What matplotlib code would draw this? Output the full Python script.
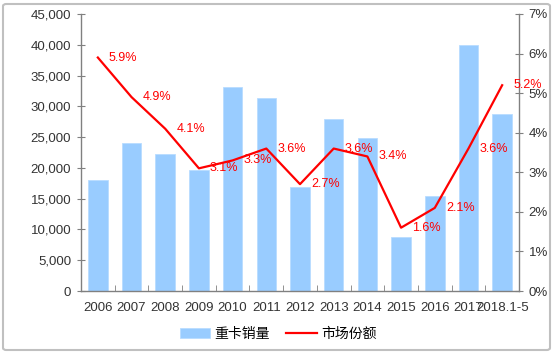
import matplotlib.pyplot as plt
from matplotlib.patches import FancyBboxPatch
from matplotlib.ticker import FuncFormatter, FixedLocator
import numpy as np

plt.rcParams['font.family'] = ['Liberation Sans', 'Noto Sans CJK SC', 'DejaVu Sans']

years = ['2006', '2007', '2008', '2009', '2010', '2011', '2012', '2013',
         '2014', '2015', '2016', '2017', '2018.1-5']
sales = [18000, 24000, 22300, 19600, 33200, 31400, 16900, 27900,
         24900, 8700, 15400, 40000, 28800]
share = [5.9, 4.9, 4.1, 3.1, 3.3, 3.6, 2.7, 3.6, 3.4, 1.6, 2.1, 3.6, 5.2]

bar_color = '#99CCFF'
line_color = '#FF0000'
axis_color = '#808080'
text_color = '#333333'

fig = plt.figure(figsize=(5.54, 3.53), dpi=100)
ax = fig.add_axes([81 / 554, 62 / 353, 438 / 554, 277 / 353])
ax2 = ax.twinx()

x = np.arange(len(years))
ax.bar(x, sales, width=0.58, color=bar_color, edgecolor='#B8DCFF',
       linewidth=0.6, label='重卡销量', zorder=2)
ax2.plot(x, share, color=line_color, lw=1.6, label='市场份额', zorder=3)

for xi, v in zip(x, share):
    ax2.annotate(f'{v:.1f}%', (xi, v), xytext=(8, 0), textcoords='offset points',
                 ha='left', va='center', color=line_color, fontsize=9)

ax.set_xlim(-0.5, len(years) - 0.5)
ax.set_ylim(0, 45000)
ax.set_yticks(np.arange(0, 45001, 5000))
ax.yaxis.set_major_formatter(FuncFormatter(lambda v, p: f'{int(v):,}'))
ax2.set_ylim(0, 7)
ax2.set_yticks(np.arange(0, 8, 1))
ax2.yaxis.set_major_formatter(FuncFormatter(lambda v, p: f'{int(v)}%'))

ax.set_xticks(x)
ax.set_xticklabels(years)
ax.xaxis.set_minor_locator(FixedLocator(np.arange(-0.5, len(years), 1)))
ax.tick_params(axis='x', which='major', length=0, pad=8, labelsize=9.5,
               colors=text_color)
ax.tick_params(axis='x', which='minor', length=4, direction='in',
               color=axis_color)
ax.tick_params(axis='y', direction='inout', length=6, color=axis_color,
               labelsize=9.5, labelcolor=text_color, pad=4)
ax2.tick_params(axis='y', direction='inout', length=6, color=axis_color,
                labelsize=9.5, labelcolor=text_color, pad=4)

for a in (ax, ax2):
    a.spines['top'].set_visible(False)
    for s in ('left', 'right', 'bottom'):
        a.spines[s].set_color(axis_color)
        a.spines[s].set_linewidth(1.0)
ax.spines['right'].set_visible(False)
ax2.spines['left'].set_visible(False)
ax2.spines['bottom'].set_visible(False)

h1, l1 = ax.get_legend_handles_labels()
h2, l2 = ax2.get_legend_handles_labels()
fig.legend(h1 + h2, l1 + l2, loc='center', bbox_to_anchor=(0.502, 19 / 353),
           ncol=2, frameon=False, fontsize=10, handlelength=2.2,
           handleheight=0.7, columnspacing=1.2, handletextpad=0.3)

frame = FancyBboxPatch((3 / 554, 3 / 353), 547 / 554, 346 / 353,
                       boxstyle='round,pad=0,rounding_size=0.006',
                       transform=fig.transFigure, fill=False,
                       edgecolor='#C0C0C0', linewidth=1.5)
fig.patches.append(frame)

fig.savefig('out.png', dpi=100)
